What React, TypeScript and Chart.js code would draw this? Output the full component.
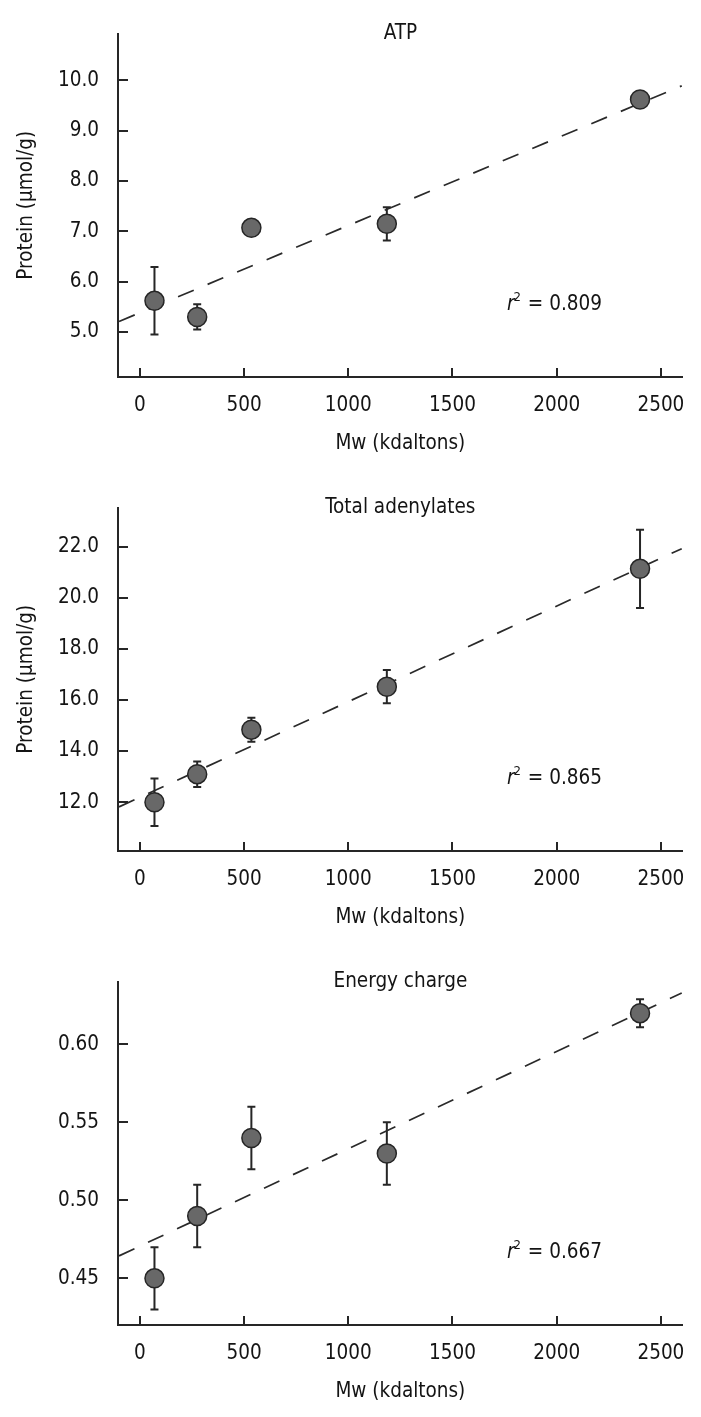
import React, { useEffect, useRef } from "react";
import { Chart, registerables } from "chart.js";

Chart.register(...registerables);

// ---------- data ----------
const molWeights = [70, 275, 535, 1185, 2400];
const fitRange = [-100, 2600];
const xTicks = [0, 500, 1000, 1500, 2000, 2500];

const atpMeans = [5.62, 5.3, 7.07, 7.15, 9.62];
const atpErrors = [0.67, 0.25, 0, 0.33, 0];
const atpFit = [5.21, 9.89];
const atpTicks = [5, 6, 7, 8, 9, 10];

const adenMeans = [12.0, 13.1, 14.84, 16.52, 21.13];
const adenErrors = [0.93, 0.5, 0.47, 0.65, 1.53];
const adenFit = [11.82, 21.92];
const adenTicks = [12, 14, 16, 18, 20, 22];

const ecMeans = [0.45, 0.49, 0.54, 0.53, 0.62];
const ecErrors = [0.02, 0.02, 0.02, 0.02, 0.009];
const ecFit = [0.4644, 0.6329];
const ecTicks = [0.45, 0.5, 0.55, 0.6];

const panelTitles = ["ATP", "Total adenylates", "Energy charge"];
const r2Values = ["0.809", "0.865", "0.667"];
const yAxisTitle = "Protein (\u03bcmol/g)";
const xAxisTitle = "Mw (kdaltons)";

// ---------- style ----------
const FAMILY = "'DejaVu Sans Condensed', 'Liberation Sans', sans-serif";
const FSIZE = 20.5;
const TEXT = "#141414";
const AXIS = "#262626";
const W = 701;
const H = 474;

const decorPlugin = {
  id: "decor",
  beforeDatasetsDraw(chart: any, _args: any, opts: any) {
    const ctx = chart.ctx;
    const xs = chart.scales.x;
    const ys = chart.scales.y;
    const pts = chart.data.datasets[0].data;
    ctx.save();
    ctx.strokeStyle = AXIS;
    ctx.lineWidth = 2;
    pts.forEach((p: any, i: number) => {
      const e = opts.errors[i];
      if (!e) return;
      const px = xs.getPixelForValue(p.x);
      const t = ys.getPixelForValue(p.y + e);
      const b = ys.getPixelForValue(p.y - e);
      ctx.beginPath();
      ctx.moveTo(px, t);
      ctx.lineTo(px, b);
      ctx.moveTo(px - 4, t);
      ctx.lineTo(px + 4, t);
      ctx.moveTo(px - 4, b);
      ctx.lineTo(px + 4, b);
      ctx.stroke();
    });
    ctx.restore();
  },
  afterDraw(chart: any, _args: any, opts: any) {
    const ctx = chart.ctx;
    const xs = chart.scales.x;
    const ys = chart.scales.y;
    const ca = chart.chartArea;
    ctx.save();
    // inward tick marks
    ctx.strokeStyle = AXIS;
    ctx.lineWidth = 2;
    ctx.beginPath();
    ys.ticks.forEach((t: any) => {
      const py = Math.round(ys.getPixelForValue(t.value));
      ctx.moveTo(ca.left, py);
      ctx.lineTo(ca.left + 10, py);
    });
    xs.ticks.forEach((t: any) => {
      const px = Math.round(xs.getPixelForValue(t.value));
      ctx.moveTo(px, ca.bottom);
      ctx.lineTo(px, ca.bottom - 9);
    });
    ctx.stroke();

    // panel title
    ctx.fillStyle = TEXT;
    ctx.font = `${FSIZE}px ${FAMILY}`;
    ctx.textAlign = "center";
    ctx.textBaseline = "middle";
    ctx.fillText(opts.title, (ca.left + ca.right) / 2, ca.top);

    // r^2 annotation
    const x0 = ca.left + 389;
    const base = ca.top + 276.5;
    ctx.textAlign = "left";
    ctx.textBaseline = "alphabetic";
    ctx.font = `italic ${FSIZE}px ${FAMILY}`;
    ctx.fillText("r", x0, base);
    let x = x0 + ctx.measureText("r").width;
    ctx.font = `13px ${FAMILY}`;
    ctx.fillText("2", x - 1, base - 9);
    x += ctx.measureText("2").width;
    ctx.font = `${FSIZE}px ${FAMILY}`;
    ctx.fillText(" = " + opts.r2, x, base);
    ctx.restore();
  },
};

type PanelCfg = {
  title: string;
  means: number[];
  errors: number[];
  fit: number[];
  ticks: number[];
  decimals: number;
  yMin: number;
  yMax: number;
  yTitle: string;
  r2: string;
};

const panels: PanelCfg[] = [
  { title: panelTitles[0], means: atpMeans, errors: atpErrors, fit: atpFit, ticks: atpTicks, decimals: 1, yMin: 4.107, yMax: 10.93, yTitle: yAxisTitle, r2: r2Values[0] },
  { title: panelTitles[1], means: adenMeans, errors: adenErrors, fit: adenFit, ticks: adenTicks, decimals: 1, yMin: 10.095, yMax: 23.53, yTitle: yAxisTitle, r2: r2Values[1] },
  { title: panelTitles[2], means: ecMeans, errors: ecErrors, fit: ecFit, ticks: ecTicks, decimals: 2, yMin: 0.4201, yMax: 0.6403, yTitle: "", r2: r2Values[2] },
];

function Panel({ cfg, top }: { cfg: PanelCfg; top: number }) {
  const ref = useRef<HTMLCanvasElement>(null);
  useEffect(() => {
    const font = { family: FAMILY, size: FSIZE };
    const chart = new Chart(ref.current as HTMLCanvasElement, {
      type: "scatter",
      data: {
        datasets: [
          {
            data: molWeights.map((x, i) => ({ x, y: cfg.means[i] })),
            pointRadius: 9.5,
            pointHoverRadius: 9.5,
            pointBackgroundColor: "#686868",
            pointBorderColor: AXIS,
            pointBorderWidth: 1.5,
            order: 0,
          },
          {
            data: fitRange.map((x, i) => ({ x, y: cfg.fit[i] })),
            showLine: true,
            pointRadius: 0,
            borderColor: "#2a2a2a",
            borderWidth: 1.7,
            borderDash: [17, 15],
            fill: false,
            order: 1,
          } as any,
        ],
      },
      options: {
        responsive: false,
        animation: false,
        events: [],
        layout: { padding: { top: 33.5, right: 17, bottom: 0, left: 0 } },
        plugins: {
          legend: { display: false },
          tooltip: { enabled: false },
          decor: { errors: cfg.errors, title: cfg.title, r2: cfg.r2 },
        } as any,
        scales: {
          x: {
            type: "linear",
            min: -105,
            max: 2605,
            afterBuildTicks: (s: any) => {
              s.ticks = xTicks.map((v) => ({ value: v }));
            },
            afterFit: (s: any) => {
              s.height = H - 377;
            },
            grid: { display: false, drawTicks: false },
            border: { display: true, color: AXIS, width: 2 },
            ticks: {
              padding: 16,
              font,
              color: TEXT,
              maxRotation: 0,
              autoSkip: false,
              callback: (v: any) => String(v),
            },
            title: {
              display: true,
              text: xAxisTitle,
              font,
              color: TEXT,
              padding: { top: 0, bottom: 18 },
            },
          },
          y: {
            type: "linear",
            min: cfg.yMin,
            max: cfg.yMax,
            afterBuildTicks: (s: any) => {
              s.ticks = cfg.ticks.map((v) => ({ value: v }));
            },
            afterFit: (s: any) => {
              s.width = 118;
            },
            grid: { display: false, drawTicks: false },
            border: { display: true, color: AXIS, width: 2 },
            ticks: {
              padding: 19,
              font,
              color: TEXT,
              autoSkip: false,
              callback: (v: any) => Number(v).toFixed(cfg.decimals),
            },
            title: {
              display: cfg.yTitle !== "",
              text: cfg.yTitle,
              font,
              color: TEXT,
              padding: { top: 14, bottom: 0 },
            },
          },
        },
      } as any,
      plugins: [decorPlugin as any],
    });
    return () => chart.destroy();
  }, []);
  return (
    <div style={{ position: "absolute", left: 0, top, width: W, height: H }}>
      <canvas ref={ref} width={W} height={H} style={{ display: "block" }} />
    </div>
  );
}

export default function App() {
  return (
    <div
      style={{
        position: "absolute",
        left: 0,
        top: 0,
        width: W,
        height: 1417,
        overflow: "hidden",
        background: "#ffffff",
      }}
    >
      {panels.map((p, i) => (
        <Panel key={i} cfg={p} top={i * H} />
      ))}
    </div>
  );
}
